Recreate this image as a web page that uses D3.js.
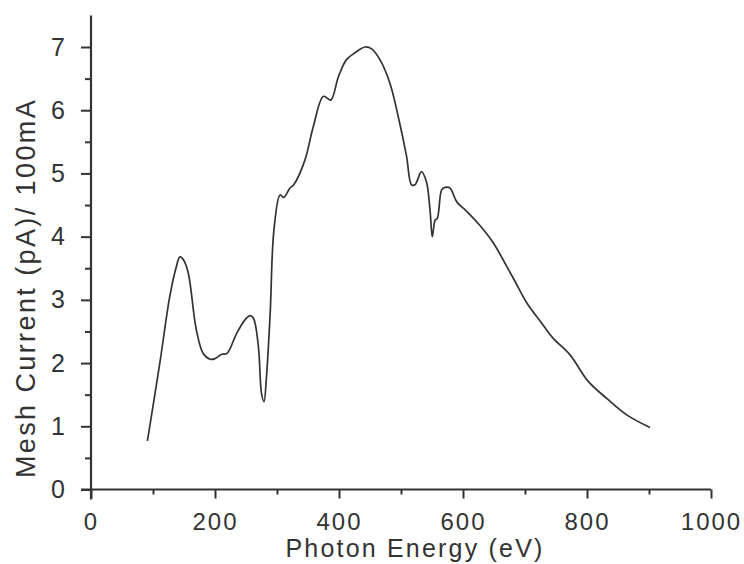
<!DOCTYPE html>
<html>
<head>
<meta charset="utf-8">
<script src="https://cdn.jsdelivr.net/npm/d3@7"></script>
<style>
  body { margin: 0; background: #fff; }
  svg { display: block; font-family: 'Liberation Sans', Arial, sans-serif; }
</style>
</head>
<body>
<div id="chart"></div>
<script>
// photon energy (eV) and mesh current (pA / 100mA)
const energy = [91, 111, 127, 137, 143.5, 150, 157, 170, 181, 192, 200, 211, 219, 235, 248, 256.5, 262, 270, 275, 279, 283, 289, 295,
  305, 311, 321, 327, 345, 358.5, 375, 386.6, 399, 412, 426, 442, 452.7, 466, 482, 498, 509, 517, 522.6, 533, 541, 547, 550.5, 555,
  558.6, 565.6, 571, 579, 590, 606, 627, 649, 670.5, 684, 703, 727, 745.6, 772.6, 802, 831.8, 864, 901.6];
const current = [0.77, 2.0, 3.05, 3.5, 3.68, 3.62, 3.42, 2.52, 2.15, 2.06, 2.07, 2.14, 2.15, 2.47, 2.68, 2.75, 2.71, 2.26, 1.52, 1.39, 1.78, 2.79, 4.1,
  4.66, 4.62, 4.77, 4.82, 5.21, 5.74, 6.22, 6.16, 6.53, 6.80, 6.91, 7.0, 6.97, 6.80, 6.43, 5.79, 5.27, 4.82, 4.82, 5.03, 4.87, 4.40, 4.0, 4.26,
  4.29, 4.74, 4.78, 4.77, 4.55, 4.40, 4.18, 3.90, 3.53, 3.29, 2.95, 2.63, 2.39, 2.13, 1.71, 1.44, 1.18, 0.98];
const xTicks = [0, 200, 400, 600, 800, 1000];
const xMinor = [100, 300, 500, 700, 900];
const yTicks = [0, 1, 2, 3, 4, 5, 6, 7];
const yMinor = [0.5, 1.5, 2.5, 3.5, 4.5, 5.5, 6.5];

const data = energy.map((e, i) => ({ e: e, v: current[i] }));

const width = 744, height = 564;
const x = d3.scaleLinear().domain([0, 1000]).range([91, 711]);
const y = d3.scaleLinear().domain([0, 7]).range([489.5, 47]);

const svg = d3.select('#chart').append('svg')
  .attr('width', width)
  .attr('height', height);

const ink = '#333';

// x axis
svg.append('g')
  .attr('transform', `translate(0,${y(0)})`)
  .call(d3.axisBottom(x).tickValues(xMinor).tickSize(5).tickSizeOuter(0).tickFormat(''))
  .call(g => g.select('.domain').remove());
svg.append('g')
  .attr('transform', `translate(0,${y(0)})`)
  .call(d3.axisBottom(x).tickValues(xTicks).tickSize(9).tickSizeOuter(0).tickFormat(d3.format('d')))
  .call(g => g.select('.domain').remove())
  .call(g => g.selectAll('text')
    .attr('y', 40).attr('dy', 0)
    .attr('font-size', 24).attr('letter-spacing', 2)
    .attr('fill', ink).attr('font-family', null));

// y axis
svg.append('g')
  .attr('transform', `translate(${x(0)},0)`)
  .call(d3.axisLeft(y).tickValues(yMinor).tickSize(6).tickSizeOuter(0).tickFormat(''))
  .call(g => g.select('.domain').remove());
svg.append('g')
  .attr('transform', `translate(${x(0)},0)`)
  .call(d3.axisLeft(y).tickValues(yTicks).tickSize(10).tickSizeOuter(0).tickPadding(16).tickFormat(d3.format('d')))
  .call(g => g.select('.domain').remove())
  .call(g => g.selectAll('text')
    .attr('font-size', 25)
    .attr('fill', ink).attr('font-family', null));

svg.selectAll('.tick line').attr('stroke', ink).attr('stroke-width', 2);

// axis lines, crossing at the origin
svg.append('line')
  .attr('x1', x(0)).attr('x2', x(0))
  .attr('y1', y(7.5)).attr('y2', y(0) + 10)
  .attr('stroke', ink).attr('stroke-width', 2.2);
svg.append('line')
  .attr('x1', x(0) - 10).attr('x2', x(1000))
  .attr('y1', y(0)).attr('y2', y(0))
  .attr('stroke', ink).attr('stroke-width', 2.2);

// axis titles
svg.append('text')
  .attr('x', 415).attr('y', 557)
  .attr('text-anchor', 'middle')
  .attr('font-size', 25)
  .attr('letter-spacing', 2.2)
  .attr('fill', ink)
  .text('Photon Energy (eV)');

svg.append('text')
  .attr('transform', 'translate(35,288) rotate(-90)')
  .attr('text-anchor', 'middle')
  .attr('font-size', 27)
  .attr('letter-spacing', 2.4)
  .attr('fill', ink)
  .text('Mesh Current (pA)/ 100mA');

// spectrum
const line = d3.line()
  .x(d => x(d.e))
  .y(d => y(d.v))
  .curve(d3.curveCatmullRom.alpha(0.5));

svg.append('path')
  .datum(data)
  .attr('fill', 'none')
  .attr('stroke', ink)
  .attr('stroke-width', 1.7)
  .attr('stroke-linejoin', 'round')
  .attr('d', line);
</script>
</body>
</html>
